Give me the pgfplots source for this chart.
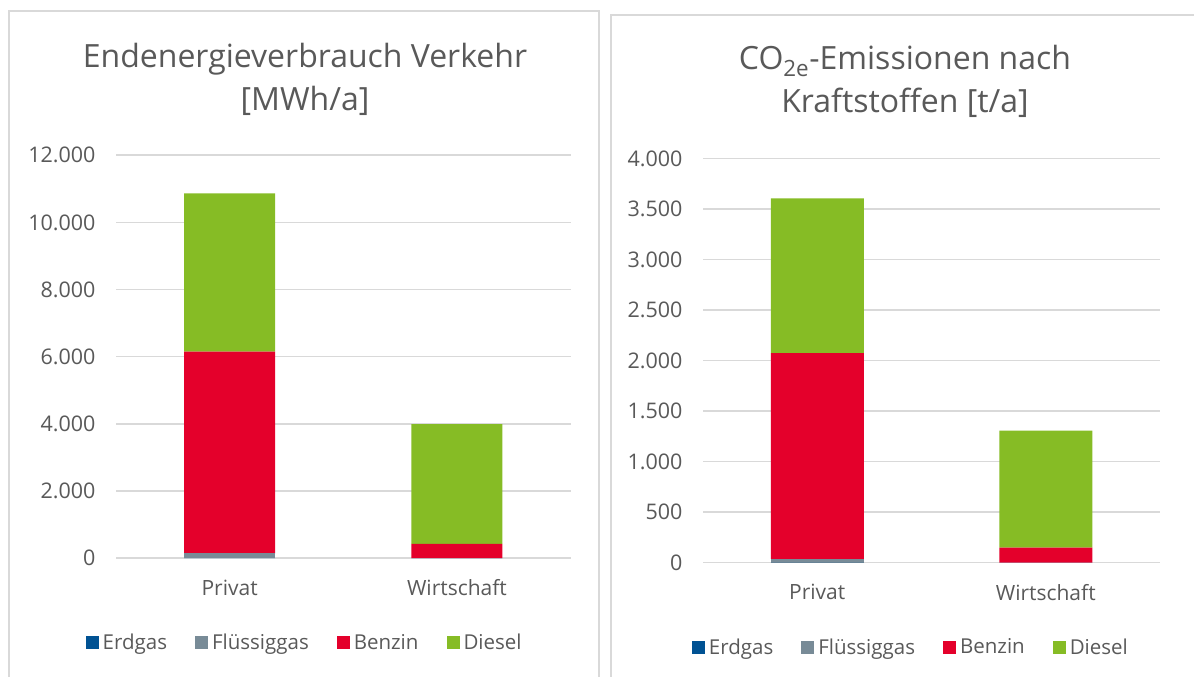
\documentclass[border=0pt]{standalone}
\usepackage{fontspec}
\setmainfont{Open Sans}
\usepackage{pgfplots}
\pgfplotsset{compat=1.18}

\definecolor{erdgas}{HTML}{005293}
\definecolor{fluessig}{HTML}{788B97}
\definecolor{benzin}{HTML}{E4002B}
\definecolor{diesel}{HTML}{86BC25}
\definecolor{txt}{HTML}{595959}
\definecolor{gridgray}{HTML}{D9D9D9}

\pgfplotsset{
  panel/.style={
    scale only axis,
    ybar stacked,
    bar width=91pt,
    xmin=-0.5, xmax=1.5, ymin=0,
    xtick={0,1}, xticklabels={Privat,Wirtschaft},
    axis line style={draw=none},
    major tick length=0pt,
    ymajorgrids,
    grid style={draw=gridgray, line width=1.5pt},
    scaled y ticks=false,
    yticklabel style={font=\fontsize{21.5}{25}\selectfont, text=txt, xshift=-17pt},
    xticklabel style={font=\fontsize{21}{25}\selectfont, text=txt, yshift=-18pt},
    /pgf/number format/1000 sep={.},
    /pgf/number format/assume math mode=true,
    every axis plot/.append style={draw=none},
    legend columns=4,
    legend style={draw=none, fill=none, font=\fontsize{20.5}{24}\selectfont,
      text=txt, anchor=center,
      /tikz/every odd column/.append style={column sep=2pt},
      /tikz/every even column/.append style={column sep=26pt}},
    legend image code/.code={\fill[##1] (0pt,-6.5pt) rectangle (13pt,6.5pt);},
  }
}

\begin{document}
\begin{tikzpicture}[x=1pt,y=1pt]
\useasboundingbox (0,0) rectangle (1194,677);
% panel frames
\draw[gridgray, line width=1.5pt] (9,0) -- (9,666) -- (599,666) -- (599,0);
\draw[gridgray, line width=1.5pt] (611,0) -- (611,662) -- (1200,662);

% titles
\node[text=txt, align=center, font=\fontsize{32}{43}\selectfont] at (305,597.5)
  {Endenergieverbrauch Verkehr\\{[MWh/a]}};
\node[text=txt, align=center, font=\fontsize{32}{43}\selectfont] at (905,596)
  {CO\textsubscript{2e}-Emissionen nach\\Kraftstoffen {[t/a]}};

% left: Endenergieverbrauch [MWh/a]
\begin{axis}[panel,
    at={(116pt,118.8pt)}, anchor=south west,
    width=454.6pt, height=403pt,
    ymax=12000, ytick distance=2000,
    legend style={at={(0.415,-0.21)}},
  ]
  \addplot[fill=erdgas]   coordinates {(0,5) (1,2)};
  \addlegendentry{Erdgas}
  \addplot[fill=fluessig] coordinates {(0,140) (1,0)};
  \addlegendentry{Flüssiggas}
  \addplot[fill=benzin]   coordinates {(0,6005) (1,424)};
  \addlegendentry{Benzin}
  \addplot[fill=diesel]   coordinates {(0,4715) (1,3566)};
  \addlegendentry{Diesel}
\end{axis}

% right: CO2e-Emissionen [t/a]
\begin{axis}[panel,
    at={(703pt,114.3pt)}, anchor=south west,
    width=457pt, height=404pt,
    bar width=93pt,
    ymax=4000, ytick distance=500,
    legend style={at={(0.455,-0.209)}},
  ]
  \addplot[fill=erdgas]   coordinates {(0,1) (1,0.5)};
  \addlegendentry{Erdgas}
  \addplot[fill=fluessig] coordinates {(0,36) (1,0)};
  \addlegendentry{Flüssiggas}
  \addplot[fill=benzin]   coordinates {(0,2038) (1,148)};
  \addlegendentry{Benzin}
  \addplot[fill=diesel]   coordinates {(0,1533) (1,1158)};
  \addlegendentry{Diesel}
\end{axis}
\end{tikzpicture}
\end{document}
